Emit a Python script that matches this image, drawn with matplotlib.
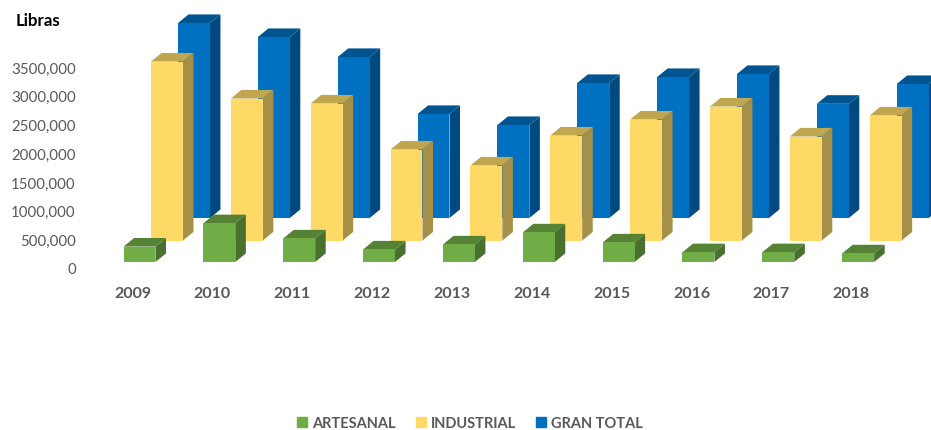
# -*- coding: utf-8 -*-
"""
Libras por año, barras con aspecto 3D
"""
import matplotlib
matplotlib.use('Agg')
import matplotlib.pyplot as plt
from matplotlib.lines import Line2D

years = ['2009', '2010', '2011', '2012', '2013', '2014', '2015', '2016', '2017', '2018']
artesanal = [268000, 675000, 410000, 218000, 305000, 515000, 340000, 170000, 170000, 150000]
industrial = [3118000, 2474000, 2387000, 1585000, 1307000, 1829000, 2108000, 2334000, 1812000, 2178000]
gran_total = [3397000, 3153000, 2805000, 1812000, 1620000, 2352000, 2456000, 2509000, 1990000, 2334000]
y_ticks = [0, 500000, 1000000, 1500000, 2000000, 2500000, 3000000, 3500000]
y_labels = ['0', '500,000', '1000,000', '1500,000', '2000,000', '2500,000', '3000,000', '3500,000']

W, H = 931, 430
GRAY = '#595959'
BAR_W = 0.40
DEPTH_X = 0.132
DEPTH_Y = 150000

plt.rcParams['font.family'] = ['Lato', 'DejaVu Sans']


def bars3d(ax, values, offset, base, front, side, top):
    """barra frontal con ax.bar, mas las caras lateral y superior"""
    for i, v in enumerate(values):
        x0 = i + offset - BAR_W / 2
        x1 = x0 + BAR_W
        y1 = base + v
        ax.fill([x1, x1 + DEPTH_X, x1 + DEPTH_X, x1],
                [base, base + DEPTH_Y, y1 + DEPTH_Y, y1], color=side, lw=0)
        ax.fill([x0, x1, x1 + DEPTH_X, x0 + DEPTH_X],
                [y1, y1, y1 + DEPTH_Y, y1 + DEPTH_Y], color=top, lw=0)
        ax.bar(i + offset, v, BAR_W, bottom=base, color=front, lw=0)


fig = plt.figure(figsize=(W / 100, H / 100), dpi=100)
ax = fig.add_axes([80 / W, 1 - 284 / H, (W - 80) / W, 284 / H])

bars3d(ax, gran_total, 0.77, 888000, '#0070C0', '#004A7F', '#005490')
bars3d(ax, industrial, 0.432, 496000, '#FFD966', '#A68F47', '#BFA64F')
bars3d(ax, artesanal, 0.088, 122000, '#70AD47', '#48702E', '#558235')

ax.set_xlim(-0.657, 10.0)
ax.set_ylim((269 - 284) / 57.4 * 1e6, 269 / 57.4 * 1e6)
ax.set_xticks(range(len(years)), years, fontweight='bold')
ax.set_yticks(y_ticks, y_labels, va='center_baseline')
ax.tick_params(axis='x', length=0, labelsize=11.5, labelcolor=GRAY, pad=2)
ax.tick_params(axis='y', length=0, labelsize=10.8, labelcolor=GRAY, pad=3)
for s in ax.spines.values():
    s.set_visible(False)

fig.text(16 / W, 1 - 21.5 / H, 'Libras', fontsize=12.2, fontweight='bold',
         color='black', va='center')

handles = [Line2D([], [], ls='', marker='s', ms=6.5, color=c)
           for c in ('#70AD47', '#FFD966', '#0070C0')]
fig.legend(handles, ['ARTESANAL', 'INDUSTRIAL', 'GRAN TOTAL'], ncol=3,
           loc='center', bbox_to_anchor=(469 / W, 1 - 423.5 / H), frameon=False,
           prop={'size': 10.5, 'weight': 'bold'}, labelcolor=GRAY,
           handlelength=1, handletextpad=0.2, columnspacing=1.2)

fig.savefig('out.png', dpi=100)
plt.close('all')
